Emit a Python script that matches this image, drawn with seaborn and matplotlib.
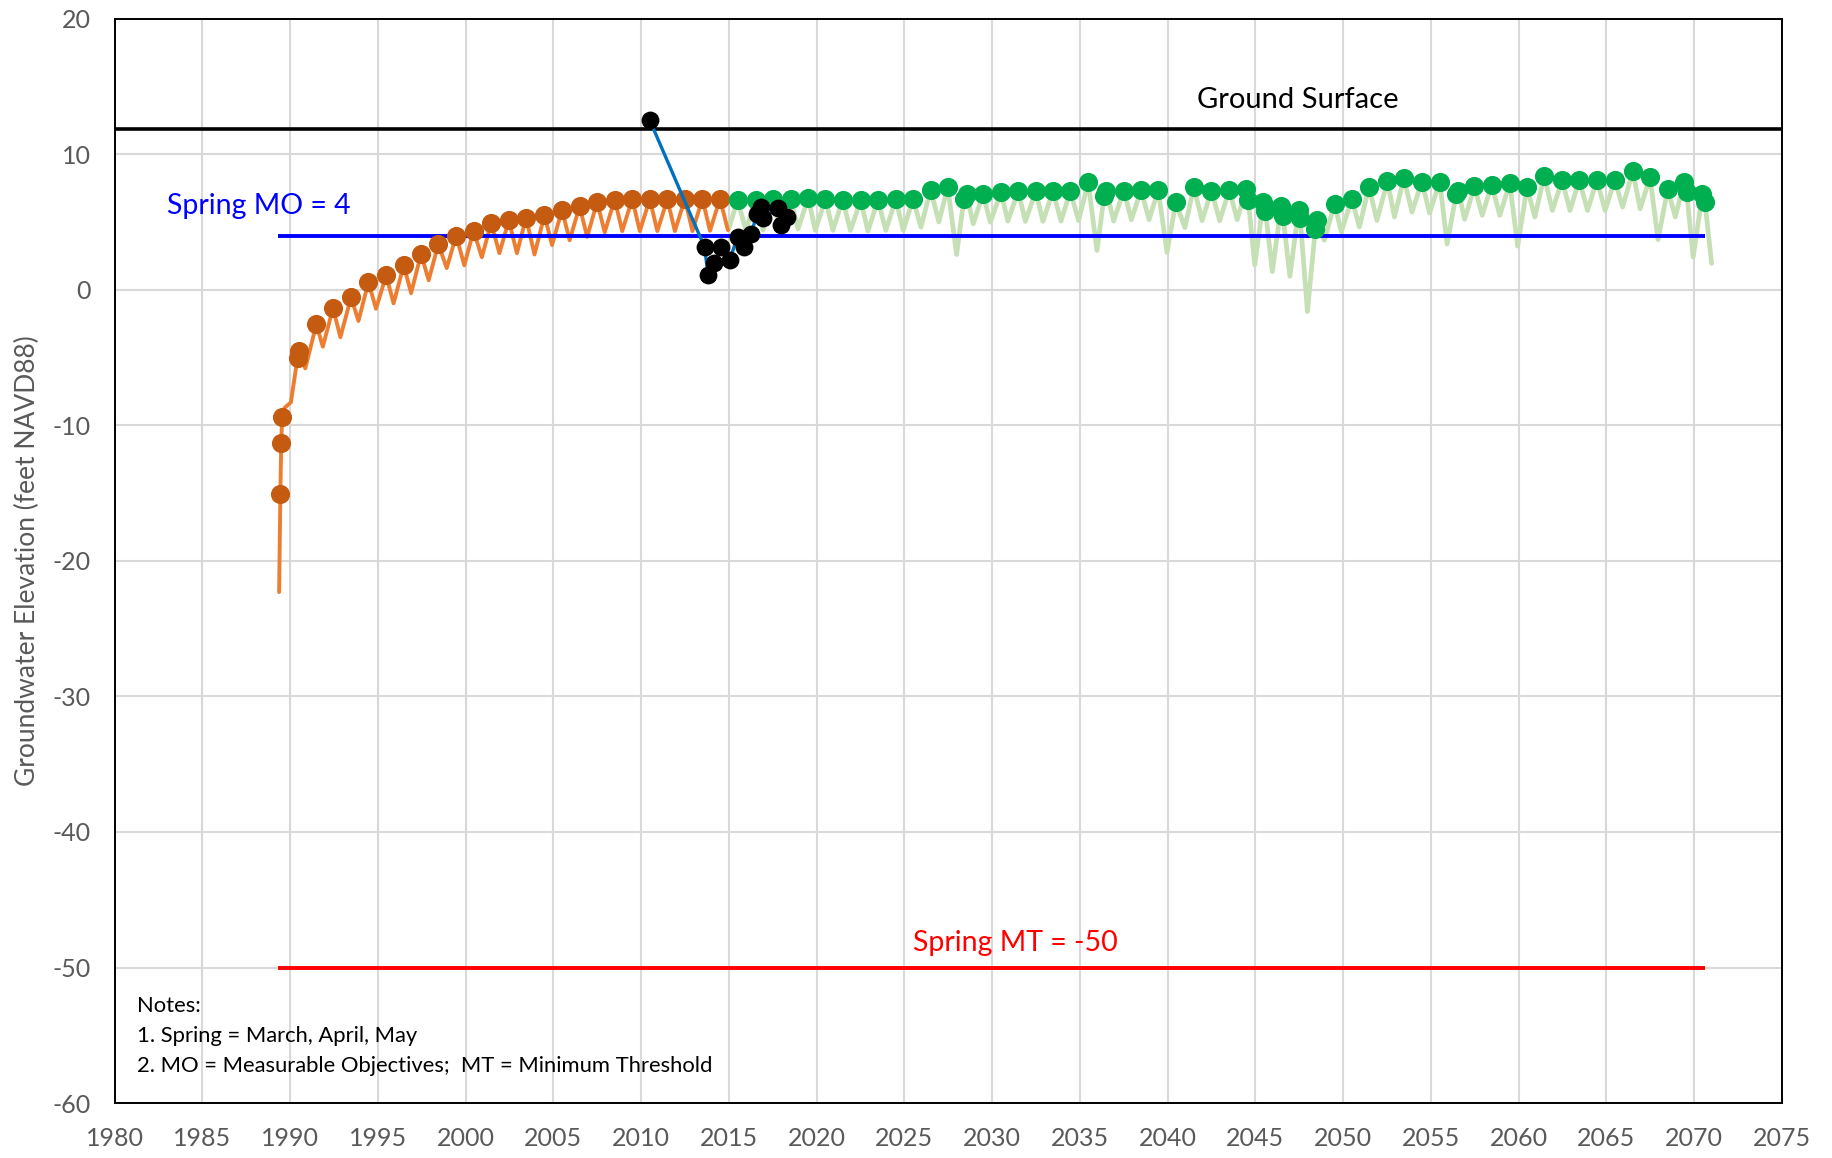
"""Groundwater elevation hydrograph: simulated history, observed, projected spring levels vs MO / MT"""

import numpy as np
import pandas as pd
import matplotlib
matplotlib.use("Agg")
import matplotlib.pyplot as plt
import seaborn as sns

# ---- 数据----
# 历史模拟线起始段
orange_lead_t = [1989.38, 1989.70, 1990.05, 1990.38]
orange_lead_v = [-22.3, -8.7, -8.3, -5.45]

# 历史模拟 春季点
orange_spring_t = [1989.45, 1989.50, 1989.55, 1990.45, 1990.52, 1991.50, 1992.45, 1993.48,
                   1994.47, 1995.48, 1996.48, 1997.47, 1998.45, 1999.47, 2000.46, 2001.46,
                   2002.47, 2003.45, 2004.50, 2005.50, 2006.50, 2007.50, 2008.50, 2009.50,
                   2010.50, 2011.50, 2012.50, 2013.50, 2014.50]
orange_spring_v = [-15.1, -11.3, -9.4, -5.0, -4.5, -2.55, -1.35, -0.55,
                   0.57, 1.06, 1.8, 2.66, 3.37, 4.0, 4.35, 4.93,
                   5.12, 5.32, 5.5, 5.9, 6.16, 6.48, 6.65, 6.7,
                   6.67, 6.67, 6.7, 6.7, 6.72]

# 历史模拟 秋季低点
orange_fall_t = [1990.87, 1991.87, 1992.87, 1993.90, 1994.90, 1995.90, 1996.90, 1997.90,
                 1998.93, 1999.93, 2000.93, 2001.93, 2002.93, 2003.93, 2004.93, 2005.93,
                 2006.93, 2007.93, 2008.93, 2009.93, 2010.93, 2011.93, 2012.93, 2013.93,
                 2014.95]
orange_fall_v = [-5.8, -4.2, -3.5, -2.3, -1.4, -1.0, -0.25, 0.7,
                 1.6, 1.8, 2.4, 2.7, 2.7, 2.6, 3.3, 3.65,
                 3.9, 4.25, 4.33, 4.33, 4.33, 4.33, 4.33, 4.35,
                 4.4]

# 预测 春季点
green_spring_t = [2015.50, 2016.53, 2017.50, 2018.53, 2019.53, 2020.51, 2021.49, 2022.52,
                  2023.50, 2024.52, 2025.50, 2026.50, 2027.48, 2028.40, 2028.55, 2029.49,
                  2030.51, 2031.49, 2032.49, 2033.47, 2034.46, 2035.48, 2036.39, 2036.52,
                  2037.50, 2038.49, 2039.47, 2040.47, 2041.50, 2042.50, 2043.52, 2044.46,
                  2044.60, 2045.45, 2045.58, 2046.47, 2046.58, 2047.47, 2047.56, 2048.42,
                  2048.53, 2049.52, 2050.50, 2051.48, 2052.53, 2053.46, 2054.49, 2055.51,
                  2056.45, 2056.56, 2057.49, 2058.47, 2059.50, 2060.48, 2061.46, 2062.48,
                  2063.46, 2064.47, 2065.49, 2066.51, 2067.49, 2068.50, 2069.43, 2069.58,
                  2070.48, 2070.62]
green_spring_v = [6.63, 6.63, 6.7, 6.68, 6.78, 6.7, 6.63, 6.59,
                  6.63, 6.68, 6.7, 7.37, 7.6, 6.7, 7.07, 7.07,
                  7.2, 7.27, 7.27, 7.27, 7.27, 7.93, 6.95, 7.32,
                  7.32, 7.37, 7.37, 6.46, 7.58, 7.32, 7.37, 7.44,
                  6.62, 6.46, 5.83, 6.15, 5.46, 5.9, 5.27, 4.46,
                  5.18, 6.34, 6.7, 7.6, 8.0, 8.24, 7.98, 7.98,
                  7.07, 7.32, 7.63, 7.76, 7.85, 7.56, 8.41, 8.1,
                  8.1, 8.1, 8.1, 8.73, 8.29, 7.44, 7.96, 7.2,
                  7.1, 6.45]

# 预测 低点（含起点与终点）
green_fall_t = [2015.00, 2015.97, 2016.95, 2017.95, 2018.95, 2019.93, 2020.93, 2021.93,
                2022.93, 2023.95, 2024.94, 2025.95, 2026.97, 2027.98, 2028.93, 2029.90,
                2030.90, 2031.90, 2032.90, 2033.93, 2034.93, 2035.98, 2036.93, 2037.94,
                2038.95, 2039.97, 2040.99, 2041.97, 2042.97, 2043.97, 2044.97, 2045.97,
                2046.97, 2047.97, 2048.93, 2049.90, 2050.93, 2051.93, 2052.93, 2053.93,
                2054.93, 2055.93, 2056.93, 2057.93, 2058.93, 2059.95, 2060.93, 2061.93,
                2062.93, 2063.93, 2064.93, 2065.93, 2066.93, 2067.95, 2068.93, 2069.95,
                2071.00]
green_fall_v = [4.5, 4.4, 4.4, 4.4, 4.5, 4.38, 4.38, 4.38,
                4.33, 4.38, 4.38, 4.62, 5.0, 2.6, 4.87, 4.99,
                5.07, 5.05, 5.05, 5.07, 5.1, 2.9, 5.07, 5.17,
                5.17, 2.75, 4.59, 5.1, 5.1, 5.17, 1.83, 1.34,
                1.0, -1.6, 3.65, 4.27, 4.63, 5.12, 5.37, 5.73,
                5.66, 3.37, 5.2, 5.49, 5.49, 3.22, 5.37, 5.85,
                5.85, 5.85, 5.85, 6.1, 5.98, 3.7, 5.37, 2.4,
                1.95]

# 实测
obs_t = [2010.50, 2013.62, 2013.82, 2014.18, 2014.55, 2015.05, 2015.50, 2015.85,
         2016.28, 2016.60, 2016.85, 2016.95, 2017.80, 2018.00, 2018.30]
obs_v = [12.5, 3.15, 1.08, 1.95, 3.15, 2.2, 3.9, 3.15,
         4.1, 5.6, 6.1, 5.3, 6.0, 4.8, 5.4]

ground_surface = 11.85
spring_mo = 4
spring_mt = -50
threshold_span = [1989.3, 2070.6]

x_ticks = list(range(1980, 2080, 5))
y_ticks = list(range(-60, 30, 10))

# ---- 组装 ----
orange_line = pd.DataFrame({
    "t": orange_lead_t + orange_spring_t + orange_fall_t,
    "v": orange_lead_v + orange_spring_v + orange_fall_v,
}).sort_values("t")
green_line = pd.DataFrame({
    "t": green_spring_t + green_fall_t,
    "v": green_spring_v + green_fall_v,
}).sort_values("t")
obs = pd.DataFrame({"t": obs_t, "v": obs_v})

sns.set_style("white")
plt.rcParams["font.family"] = ["Lato", "DejaVu Sans"]
plt.rcParams["axes.unicode_minus"] = False

fig = plt.figure(figsize=(18.32, 11.58), dpi=100)
ax = fig.add_axes([0.0625, 0.0474, 0.9101, 0.9365])

line_kw = dict(estimator=None, sort=True, solid_joinstyle="round", solid_capstyle="round")
sns.lineplot(data=green_line, x="t", y="v", color="#C5E0B4", lw=3.4, ax=ax, zorder=2, **line_kw)
sns.lineplot(data=orange_line, x="t", y="v", color="#ED7D31", lw=2.8, ax=ax, zorder=2, **line_kw)

ax.axhline(ground_surface, color="black", lw=2.6, zorder=3)
ax.hlines(spring_mo, *threshold_span, color="#0000FF", lw=2.8, zorder=3)
ax.hlines(spring_mt, *threshold_span, color="#FF0000", lw=2.8, zorder=3)

sns.scatterplot(x=orange_spring_t, y=orange_spring_v, color="#C55A11", s=190,
                linewidth=0, ax=ax, zorder=4)
sns.scatterplot(x=green_spring_t, y=green_spring_v, color="#00B050", s=190,
                linewidth=0, ax=ax, zorder=4)

sns.lineplot(data=obs, x="t", y="v", color="#0070C0", lw=2.4, ax=ax, zorder=5, **line_kw)
sns.scatterplot(data=obs, x="t", y="v", color="black", s=165, linewidth=0, ax=ax, zorder=6)

# 标注
ax.text(2047.4, 14.0, "Ground Surface", fontsize=21, color="black", ha="center", va="center")
ax.text(1983.0, 6.2, "Spring MO = 4", fontsize=20.5, color="#0000FF", ha="left", va="center")
ax.text(2025.5, -48.2, "Spring MT = -50", fontsize=20.5, color="#FF0000", ha="left", va="center")
notes = ["Notes:", "1. Spring = March, April, May",
         "2. MO = Measurable Objectives;  MT = Minimum Threshold"]
for i, line in enumerate(notes):
    ax.text(1981.3, -52.85 - 2.2 * i, line, fontsize=15.8, color="black", ha="left", va="center")

ax.set_xlim(1980, 2075)
ax.set_ylim(-60, 20)
ax.set_xticks(x_ticks)
ax.set_yticks(y_ticks)
ax.grid(True, color="#D9D9D9", lw=1.5)
ax.set_axisbelow(True)
for s in ax.spines.values():
    s.set_color("black")
    s.set_linewidth(1.4)
ax.tick_params(length=0, labelsize=18, labelcolor="#595959")
ax.tick_params(axis="x", pad=17)
ax.tick_params(axis="y", pad=17)
ax.set_xlabel("")
ax.set_ylabel("Groundwater Elevation (feet NAVD88)", fontsize=19, color="#595959", labelpad=9)

fig.savefig("out.png", dpi=100)
